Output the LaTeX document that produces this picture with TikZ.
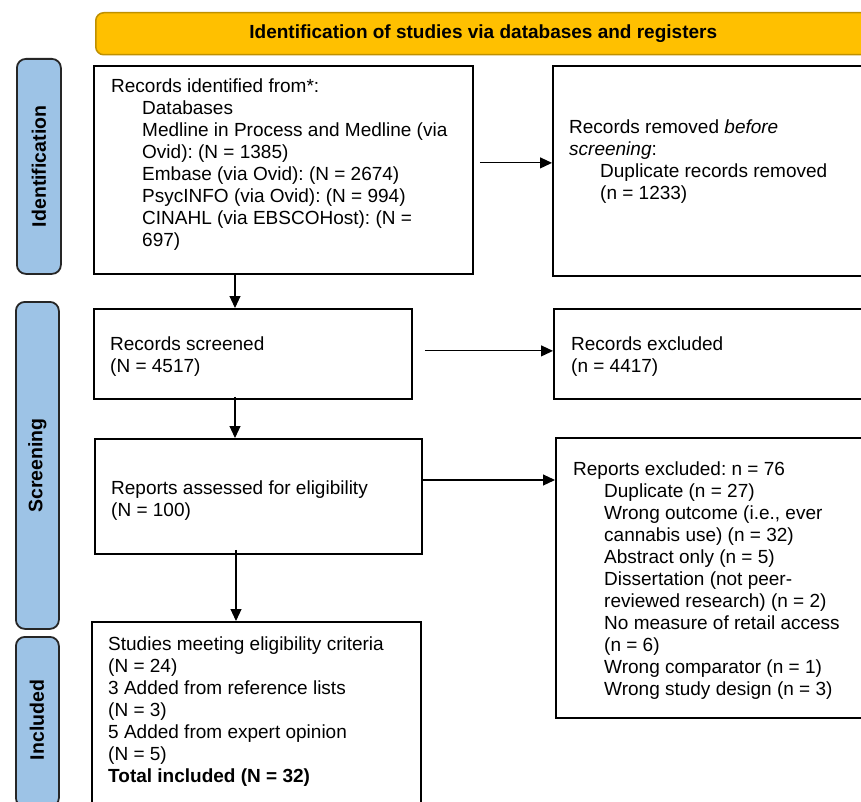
\documentclass[tikz,border=0pt]{standalone}
\usepackage{fontspec}
\setmainfont{Liberation Sans}
\usetikzlibrary{arrows.meta}
\definecolor{hdrfill}{HTML}{FFC000}
\definecolor{hdrline}{HTML}{BF9000}
\definecolor{sidefill}{HTML}{9DC3E6}
\frenchspacing
\begin{document}
\begin{tikzpicture}[x=1pt,y=-1pt,
  box/.style={draw=black,line width=1.8pt,fill=white,inner sep=0pt,anchor=north west},
  sidebox/.style={draw=black!85,line width=1.8pt,fill=sidefill,rounded corners=9pt,inner sep=0pt,anchor=north west},
  sidetxt/.style={rotate=90,inner sep=0pt,font=\fontsize{19.5}{22}\selectfont\bfseries},
  txt/.style={anchor=north west,inner sep=0pt,align=left,font=\fontsize{19}{22}\selectfont},
  arr/.style={-{Triangle[length=12pt,width=11pt]},line width=1.1pt}]
\useasboundingbox (0,0) rectangle (861,802);
\clip (0,0) rectangle (861,802);
\fill[white] (0,0) rectangle (861,802);

% header
\node[draw=hdrline,line width=1.5pt,fill=hdrfill,rounded corners=8pt,minimum width=775pt,minimum height=42pt,anchor=north west,inner sep=0pt,font=\fontsize{19}{22}\selectfont\bfseries] (hdr) at (95,12) {Identification of studies via databases and registers};

% side labels
\node[sidebox,minimum width=44pt,minimum height=215pt] (sid) at (16,58) {};
\node[sidetxt] (sidt) at (sid.center) {Identification};
\node[sidebox,minimum width=43pt,minimum height=327pt] (sscr) at (15,301) {};
\node[sidetxt] (sscrt) at (sscr.center) {Screening};
\node[sidebox,minimum width=43pt,minimum height=170pt] (sinc) at (15,636) {};
\node[sidetxt] (sinct) at (37,720) {Included};

% boxes
\node[box,minimum width=379pt,minimum height=208pt] (b1) at (93,65) {};
\node[box,minimum width=316pt,minimum height=210pt] (rem) at (552,65) {};
\node[box,minimum width=318pt,minimum height=90pt] (scr) at (93,308) {};
\node[box,minimum width=315pt,minimum height=90pt] (rexc) at (553,308) {};
\node[box,minimum width=327pt,minimum height=115pt] (rep) at (94,438) {};
\node[box,minimum width=313pt,minimum height=280pt] (repx) at (555,437) {};
\node[box,minimum width=329pt,minimum height=210pt] (inc) at (91,621) {};

% texts
\node[txt] (b1t) at (111,76.6) {\strut Records identified from*:\\
\hspace*{31pt}Databases\\
\hspace*{31pt}Medline in Process and Medline (via\\
\hspace*{31pt}Ovid): (N = 1385)\\
\hspace*{31pt}Embase (via Ovid): (N = 2674)\\
\hspace*{31pt}PsycINFO (via Ovid): (N = 994)\\
\hspace*{31pt}CINAHL (via EBSCOHost): (N =\\
\hspace*{31pt}697)};
\node[txt] (remt) at (569,117.6) {\strut Records removed \textit{before}\\
\textit{screening}:\\
\hspace*{31pt}Duplicate records removed\\
\hspace*{31pt}(n = 1233)};
\node[txt] (scrt) at (110,334.6) {\strut Records screened\\(N = 4517)};
\node[txt] (rexct) at (571,334.6) {\strut Records excluded\\(n = 4417)};
\node[txt] (rept) at (111,478.6) {\strut Reports assessed for eligibility\\(N = 100)};
\node[txt] (repxt) at (573,459.6) {\strut Reports excluded: n = 76\\
\hspace*{31pt}Duplicate (n = 27)\\
\hspace*{31pt}Wrong outcome (i.e., ever\\
\hspace*{31pt}cannabis use) (n = 32)\\
\hspace*{31pt}Abstract only (n = 5)\\
\hspace*{31pt}Dissertation (not peer-\\
\hspace*{31pt}reviewed research) (n = 2)\\
\hspace*{31pt}No measure of retail access\\
\hspace*{31pt}(n = 6)\\
\hspace*{31pt}Wrong comparator (n = 1)\\
\hspace*{31pt}Wrong study design (n = 3)};
\node[txt] (inct) at (108,634.6) {\strut Studies meeting eligibility criteria\\
(N = 24)\\
3 Added from reference lists\\
(N = 3)\\
5 Added from expert opinion\\
(N = 5)\\
\textbf{Total included (N = 32)}};

% connectors
\coordinate (ax) at (235,0);
\coordinate (bx) at (236,0);
\draw[arr] ([xshift=6pt,yshift=7pt]b1.east) -- ([yshift=8pt]rem.west);
\draw[arr] (b1.south -| ax) -- (scr.north -| ax);
\draw[arr] ([xshift=12pt,yshift=3pt]scr.east) -- ([yshift=3pt]rexc.west);
\draw[arr] ([yshift=3pt]scr.south -| ax) -- (rep.north -| ax);
\draw[arr] (rep.east |- 0,480) -- (repx.west |- 0,480);
\draw[arr] ([yshift=5pt]rep.south -| bx) -- (inc.north -| bx);
\end{tikzpicture}
\end{document}
